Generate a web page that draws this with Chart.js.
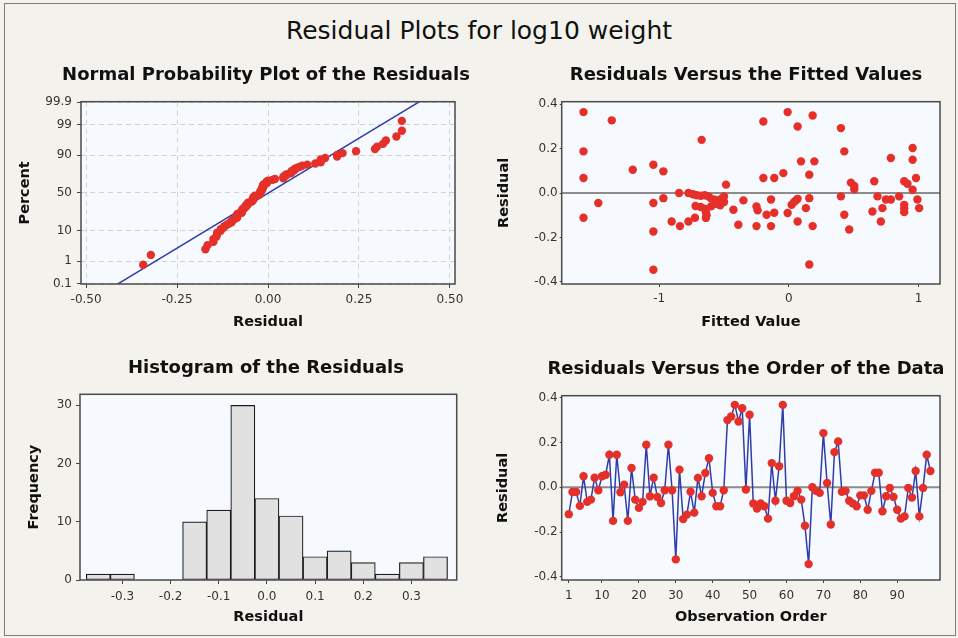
<!DOCTYPE html>
<html>
<head>
<meta charset="utf-8">
<script src="https://cdn.jsdelivr.net/npm/chart.js@4.4.1/dist/chart.umd.min.js"></script>
<style>
body { margin: 0; background: #f4f2ec; }
#page { position: relative; width: 958px; height: 638px; overflow: hidden; background: #f4f2ec; }
#outline { position: absolute; left: 4px; top: 3px; width: 952px; height: 633px; border: 1px solid #7d7d7d; box-sizing: border-box; }
#mainTitle { position: absolute; left: 0; top: 16px; width: 958px; text-align: center; font: 25px "DejaVu Sans", sans-serif; color: #111; }
canvas { position: absolute; }
</style>
</head>
<body>
<div id="page">
    <div id="outline"></div>
    <div id="mainTitle">Residual Plots for log10 weight</div>
    <canvas id="probChart" width="480" height="290" style="left:0px;top:50px"></canvas>
    <canvas id="fitsChart" width="478" height="290" style="left:480px;top:50px"></canvas>
    <canvas id="histChart" width="480" height="290" style="left:0px;top:340px"></canvas>
    <canvas id="orderChart" width="478" height="290" style="left:480px;top:340px"></canvas>
</div>
<script>
// residuals in observation order
var residuals = [
    -0.120, -0.021, -0.021, -0.083, 0.049, -0.065, -0.055, 0.043, -0.013, 0.049,
    0.056, 0.145, -0.150, 0.145, -0.022, 0.012, -0.150, 0.086, -0.055, -0.092,
    -0.065, 0.190, -0.040, 0.043, -0.043, -0.070, -0.013, 0.190, -0.013, -0.322,
    0.079, -0.142, -0.122, -0.020, -0.113, 0.042, -0.040, 0.064, 0.130, -0.025,
    -0.085, -0.085, -0.013, 0.300, 0.316, 0.368, 0.294, 0.353, -0.010, 0.324,
    -0.072, -0.095, -0.072, -0.085, -0.140, 0.108, -0.060, 0.094, 0.368, -0.060,
    -0.070, -0.040, -0.016, -0.055, -0.172, -0.343, 0.000, -0.016, -0.025, 0.242,
    0.019, -0.166, 0.157, 0.205, -0.020, -0.016, -0.060, -0.072, -0.085, -0.036,
    -0.036, -0.100, -0.016, 0.065, 0.065, -0.107, -0.040, -0.003, -0.043, -0.100,
    -0.140, -0.130, -0.003, -0.046, 0.073, -0.130, -0.003, 0.145, 0.073
];

// fitted values and their residuals
var fittedValues = [
    -1.584, -1.366, -1.584, -1.584, -1.470, -1.584, -1.204, -1.045, -0.968, -1.045,
    -0.968, -1.045, -1.045, -0.673, -0.847, -0.775, -0.740, -0.710, -0.680, -0.650,
    -0.620, -0.600, -0.570, -0.550, -0.520, -0.500, -0.500, -0.485, -0.720, -0.680,
    -0.650, -0.640, -0.635, -0.640, -0.600, -0.560, -0.530, -0.904, -0.840, -0.775,
    -0.724, -0.428, -0.351, -0.390, -0.250, -0.250, -0.241, -0.197, -0.010, 0.183,
    0.067, 0.401, 0.427, 0.093, 0.196, -0.043, -0.197, -0.113, 0.157, 0.478,
    0.504, 0.504, 0.658, 0.786, 0.954, 0.954, 0.889, 0.914, 0.980, 0.954,
    -0.138, -0.172, -0.113, -0.138, -0.010, 0.021, 0.054, 0.067, 0.040, 0.131,
    0.157, 0.067, 0.183, 0.157, 0.401, 0.427, 0.465, 0.683, 0.721, 0.644,
    0.709, 0.748, 0.786, 0.850, 0.889, 0.889, 0.889, 0.991, 1.004
];
var fittedResiduals = [
    0.365, 0.328, 0.188, 0.068, -0.045, -0.111, 0.105, 0.128, 0.098, -0.045,
    -0.023, -0.173, -0.346, 0.240, 0.000, 0.000, -0.005, -0.010, -0.012, -0.010,
    -0.015, -0.025, -0.030, -0.035, -0.025, -0.040, -0.015, 0.038, -0.058, -0.063,
    -0.070, -0.085, -0.100, -0.112, -0.060, -0.048, -0.055, -0.128, -0.149, -0.128,
    -0.111, -0.075, -0.033, -0.143, -0.060, -0.149, -0.078, 0.323, 0.365, 0.350,
    0.300, 0.293, 0.188, 0.143, 0.143, 0.090, 0.068, 0.068, 0.083, 0.047,
    0.032, 0.017, 0.053, 0.158, 0.203, 0.150, 0.053, 0.042, 0.068, 0.015,
    -0.029, -0.098, -0.089, -0.149, -0.090, -0.053, -0.033, -0.026, -0.040, -0.068,
    -0.023, -0.128, -0.149, -0.322, -0.015, -0.098, -0.164, -0.015, -0.068, -0.083,
    -0.128, -0.029, -0.029, -0.015, -0.053, -0.068, -0.086, -0.029, -0.068
];

// histogram bins (midpoints) and counts
var binMids = [-0.35, -0.30, -0.25, -0.20, -0.15, -0.10, -0.05, 0.00, 0.05, 0.10, 0.15, 0.20, 0.25, 0.30, 0.35];
var binCounts = [1, 1, 0, 0, 10, 12, 30, 14, 11, 4, 5, 3, 1, 3, 4];

// tick positions
var percentTicks = [0.1, 1, 10, 50, 90, 99, 99.9];
var probXTicks = [-0.50, -0.25, 0.00, 0.25, 0.50];
var fitXTicks = [-1, 0, 1];
var residTicks = [-0.4, -0.2, 0.0, 0.2, 0.4];
var histXTicks = [-0.3, -0.2, -0.1, 0.0, 0.1, 0.2, 0.3];
var histYTicks = [0, 10, 20, 30];
var orderTicks = [1, 10, 20, 30, 40, 50, 60, 70, 80, 90];

var RED = '#e5302a';
var BLUE = '#2e3dab';
var TITLE_SIZE = 18;
var AXIS_TITLE_SIZE = 14.5;

Chart.defaults.font.family = "'DejaVu Sans', sans-serif";

// Acklam's approximation of the inverse normal cdf
function normInv(p)
{
    var a = [-3.969683028665376e+01, 2.209460984245205e+02, -2.759285104469687e+02, 1.383577518672690e+02, -3.066479806614716e+01, 2.506628277459239e+00];
    var b = [-5.447609879822406e+01, 1.615858368580409e+02, -1.556989798598866e+02, 6.680131188771972e+01, -1.328068155288572e+01];
    var c = [-7.784894002430293e-03, -3.223964580411365e-01, -2.400758277161838e+00, -2.549732539343734e+00, 4.374664141464968e+00, 2.938163982698783e+00];
    var d = [7.784695709041462e-03, 3.224671290700398e-01, 2.445134137142996e+00, 3.754408661907416e+00];
    var q, r;
    if(p < 0.02425)
    {
        q = Math.sqrt(-2 * Math.log(p));
        return (((((c[0]*q+c[1])*q+c[2])*q+c[3])*q+c[4])*q+c[5]) / ((((d[0]*q+d[1])*q+d[2])*q+d[3])*q+1);
    }
    if(p > 1 - 0.02425)
    {
        q = Math.sqrt(-2 * Math.log(1 - p));
        return -(((((c[0]*q+c[1])*q+c[2])*q+c[3])*q+c[4])*q+c[5]) / ((((d[0]*q+d[1])*q+d[2])*q+d[3])*q+1);
    }
    q = p - 0.5;
    r = q * q;
    return (((((a[0]*r+a[1])*r+a[2])*r+a[3])*r+a[4])*r+a[5])*q / (((((b[0]*r+b[1])*r+b[2])*r+b[3])*r+b[4])*r+1);
}

// pale plot background and dark frame round every chart area
const plotFrame = {
    id: 'plotFrame',
    beforeDraw(chart) {
        const a = chart.chartArea, ctx = chart.ctx;
        ctx.save();
        ctx.fillStyle = '#f6f9fd';
        ctx.fillRect(a.left, a.top, a.right - a.left, a.bottom - a.top);
        ctx.restore();
    },
    afterDraw(chart) {
        const a = chart.chartArea, ctx = chart.ctx;
        ctx.save();
        ctx.strokeStyle = '#4a4a4a';
        ctx.lineWidth = 1.5;
        ctx.strokeRect(a.left, a.top, a.right - a.left, a.bottom - a.top);
        ctx.restore();
    }
};
Chart.register(plotFrame);

function makeAxis(o)
{
    return {
        type: 'linear',
        offset: false,
        min: o.min,
        max: o.max,
        afterBuildTicks: s => { s.ticks = o.ticks.map(v => ({value: v})); },
        ticks: {autoSkip: false, maxRotation: 0, padding: o.pad, color: '#333', font: {size: 12}, callback: o.fmt},
        grid: {offset: false, drawOnChartArea: !!o.grid, color: '#d2d2d2', drawTicks: true, tickLength: o.tick, tickColor: '#444'},
        border: {display: false, dash: o.grid ? [5, 4] : []},
        title: {display: true, text: o.title, color: '#111', font: {size: AXIS_TITLE_SIZE, weight: 'bold'}}
    };
}

// p: canvas box, plot area, title centre and axis title positions in page pixels
function makeOptions(p, xAxis, yAxis)
{
    var half = AXIS_TITLE_SIZE * 0.6;
    xAxis.afterFit = s => { s.height = p.top + p.height - p.plotBottom; };
    xAxis.title.padding = {top: 0, bottom: p.top + p.height - p.xTitleY - half};
    yAxis.afterFit = s => { s.width = p.plotLeft - p.left; };
    yAxis.title.padding = {top: p.yTitleX - p.left - half, bottom: 0};

    // the title box is centred on p.titleX; an empty right-hand axis
    // keeps the plot's right edge in place
    var titleWidth = 2 * (p.titleX - p.left);
    var spacerWidth = titleWidth - (p.plotRight - p.left);
    var spacer = {
        type: 'linear', position: 'right', display: true,
        ticks: {display: false}, grid: {display: false}, border: {display: false}, title: {display: false},
        afterFit: s => { s.width = spacerWidth; }
    };

    var lineHeight = TITLE_SIZE * 1.2;
    var titleTop = p.titleY - p.top - lineHeight / 2;
    var titleBottom = p.plotTop - p.top - titleTop - lineHeight;
    return {
        responsive: false,
        animation: false,
        devicePixelRatio: 1,
        layout: {padding: {left: 0, top: 0, bottom: 0, right: p.width - titleWidth}},
        plugins: {
            legend: {display: false},
            tooltip: {enabled: false},
            title: {display: true, text: p.title, color: '#111', font: {size: TITLE_SIZE, weight: 'bold'},
                    padding: {top: titleTop, bottom: titleBottom}}
        },
        scales: {x: xAxis, y: yAxis, spacer: spacer}
    };
}

function drawProbability()
{
    var n = residuals.length;
    var sorted = residuals.slice().sort((a, b) => a - b);
    var points = sorted.map((r, i) => ({x: r, y: normInv((i + 1 - 0.3) / (n + 0.4))}));
    var mean = residuals.reduce((s, v) => s + v, 0) / n;
    var sd = Math.sqrt(residuals.reduce((s, v) => s + (v - mean) * (v - mean), 0) / (n - 1));
    var fitLine = [{x: mean - 3.3 * sd, y: -3.3}, {x: mean + 3.3 * sd, y: 3.3}];
    var zTicks = percentTicks.map(p => normInv(p / 100));

    var p = {left: 0, top: 50, width: 480, height: 290, plotLeft: 81, plotRight: 455, plotTop: 101.7, plotBottom: 284,
             titleX: 266, titleY: 75, xTitleY: 322, yTitleX: 25, title: 'Normal Probability Plot of the Residuals'};
    var x = makeAxis({min: -0.514, max: 0.514, ticks: probXTicks, pad: 5, tick: 4, grid: true,
                      fmt: v => v.toFixed(2), title: 'Residual'});
    var y = makeAxis({min: -3.11, max: 3.11, ticks: zTicks, pad: 5, tick: 4, grid: true,
                      fmt: (v, i) => String(percentTicks[i]), title: 'Percent'});

    new Chart(document.getElementById('probChart'), {
        type: 'scatter',
        data: {datasets: [
            {data: points, backgroundColor: RED, pointRadius: 4.2, borderWidth: 0, order: 1},
            {data: fitLine, showLine: true, borderColor: BLUE, borderWidth: 1.5, pointRadius: 0, order: 2}
        ]},
        options: makeOptions(p, x, y)
    });
}

function drawFits()
{
    var points = fittedValues.map((f, i) => ({x: f, y: fittedResiduals[i]}));
    var p = {left: 480, top: 50, width: 478, height: 290, plotLeft: 561.7, plotRight: 940, plotTop: 101.7, plotBottom: 284,
             titleX: 746, titleY: 75, xTitleY: 322, yTitleX: 504, title: 'Residuals Versus the Fitted Values'};
    var x = makeAxis({min: -1.752, max: 1.165, ticks: fitXTicks, pad: 5, tick: 3,
                      fmt: v => String(v), title: 'Fitted Value'});
    var y = makeAxis({min: -0.41, max: 0.412, ticks: residTicks, pad: 2, tick: 2,
                      fmt: v => v.toFixed(1), title: 'Residual'});

    new Chart(document.getElementById('fitsChart'), {
        type: 'scatter',
        data: {datasets: [
            {data: points, backgroundColor: RED, pointRadius: 4.2, borderWidth: 0, order: 1},
            {data: [{x: -3, y: 0}, {x: 3, y: 0}], showLine: true, borderColor: '#8c8c8c', borderWidth: 2, pointRadius: 0, order: 2}
        ]},
        options: makeOptions(p, x, y)
    });
}

function drawHistogram()
{
    var bars = binMids.map((m, i) => ({x: m, y: binCounts[i]}));
    var p = {left: 0, top: 340, width: 480, height: 290, plotLeft: 80, plotRight: 456.7, plotTop: 394.3, plotBottom: 580,
             titleX: 266, titleY: 368, xTitleY: 617, yTitleX: 34, title: 'Histogram of the Residuals'};
    var x = makeAxis({min: -0.388, max: 0.394, ticks: histXTicks, pad: 6, tick: 4,
                      fmt: v => v.toFixed(1), title: 'Residual'});
    var y = makeAxis({min: 0, max: 31.9, ticks: histYTicks, pad: 4, tick: 4,
                      fmt: v => String(v), title: 'Frequency'});

    new Chart(document.getElementById('histChart'), {
        type: 'bar',
        data: {datasets: [
            {data: bars, backgroundColor: '#e1e1e1', borderColor: '#1e1e1e', borderWidth: 1.2,
             barPercentage: 1, categoryPercentage: 1, borderSkipped: false}
        ]},
        options: makeOptions(p, x, y)
    });
}

function drawOrder()
{
    var points = residuals.map((r, i) => ({x: i + 1, y: r}));
    var p = {left: 480, top: 340, width: 478, height: 290, plotLeft: 561.7, plotRight: 940, plotTop: 395.7, plotBottom: 580,
             titleX: 746, titleY: 369, xTitleY: 617, yTitleX: 503, title: 'Residuals Versus the Order of the Data'};
    var x = makeAxis({min: -0.92, max: 101.6, ticks: orderTicks, pad: 6, tick: 3,
                      fmt: v => String(v), title: 'Observation Order'});
    var y = makeAxis({min: -0.414, max: 0.409, ticks: residTicks, pad: 2, tick: 2,
                      fmt: v => v.toFixed(1), title: 'Residual'});

    new Chart(document.getElementById('orderChart'), {
        type: 'scatter',
        data: {datasets: [
            {data: points, showLine: true, borderColor: BLUE, borderWidth: 1.5, pointBackgroundColor: RED,
             pointBorderWidth: 0, pointRadius: 4.2, tension: 0, order: 1},
            {data: [{x: -10, y: 0}, {x: 110, y: 0}], showLine: true, borderColor: '#8c8c8c', borderWidth: 2, pointRadius: 0, order: 2}
        ]},
        options: makeOptions(p, x, y)
    });
}

drawProbability();
drawFits();
drawHistogram();
drawOrder();
</script>
</body>
</html>
